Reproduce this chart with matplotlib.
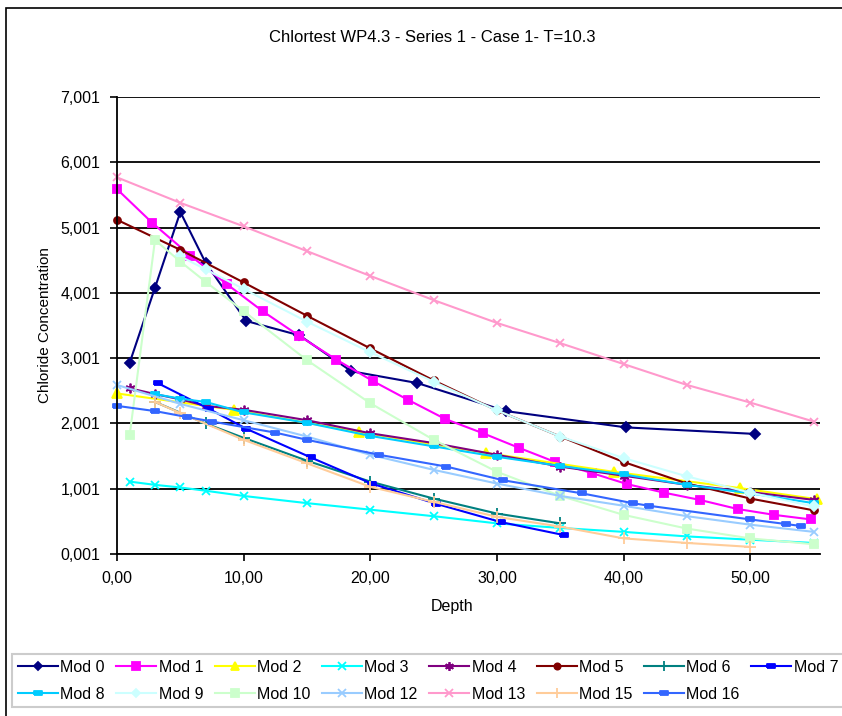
import matplotlib
matplotlib.use("Agg")
import matplotlib.pyplot as plt
from matplotlib.patches import Rectangle
from matplotlib.ticker import FuncFormatter

plt.rcParams["font.family"] = ["Liberation Sans", "DejaVu Sans"]

# ---------------------------------------------------------------------------
# Data (depth vs chloride concentration)
# ---------------------------------------------------------------------------
mod0_x = [1, 3, 5, 7, 10.2, 14.4, 18.5, 23.7, 30.7, 40.2, 50.4]
mod0_y = [2.93, 4.08, 5.24, 4.46, 3.57, 3.35, 2.80, 2.62, 2.19, 1.94, 1.84]

mod1_x = [0, 2.8, 5.8, 8.7, 11.5, 14.4, 17.3, 20.2, 23.0, 25.9, 28.9, 31.7,
          34.6, 37.5, 40.3, 43.2, 46.0, 49.0, 51.9, 54.8]
mod1_y = [5.59, 5.07, 4.57, 4.13, 3.72, 3.34, 2.98, 2.65, 2.36, 2.07, 1.85, 1.63,
          1.41, 1.24, 1.07, 0.94, 0.83, 0.69, 0.60, 0.53]

mod2_x = [0, 9.2, 19.1, 29.1, 39.2, 49.2, 55.3]
mod2_y = [2.46, 2.21, 1.87, 1.55, 1.26, 1.01, 0.84]

mod3_x = [1, 3, 5, 7, 10, 15, 20, 25, 30, 35, 40, 45, 50, 55]
mod3_y = [1.11, 1.06, 1.02, 0.97, 0.89, 0.78, 0.68, 0.58, 0.47, 0.40, 0.34, 0.27, 0.22, 0.17]

mod4_x = [1, 3, 5, 7, 10, 15, 20, 25, 30, 35, 40, 45, 50, 55]
mod4_y = [2.54, 2.45, 2.37, 2.27, 2.21, 2.05, 1.85, 1.70, 1.52, 1.34, 1.20, 1.06, 0.95, 0.83]

mod5_x = [0, 5, 10, 15, 20, 25, 30, 35, 40, 45, 50, 55]
mod5_y = [5.12, 4.66, 4.16, 3.65, 3.15, 2.66, 2.20, 1.80, 1.41, 1.08, 0.85, 0.67]

mod6_x = [3, 7, 10, 15, 20, 25, 30, 35]
mod6_y = [2.33, 2.00, 1.78, 1.43, 1.11, 0.85, 0.62, 0.47]

mod7_x = [3.2, 7.3, 10.2, 15.3, 20.1, 25.2, 30.3, 35.3]
mod7_y = [2.62, 2.22, 1.92, 1.48, 1.08, 0.77, 0.49, 0.29]

mod8_x = [3, 5, 7, 10, 15, 20, 25, 30, 35, 40, 45, 50, 55]
mod8_y = [2.45, 2.38, 2.33, 2.17, 2.01, 1.81, 1.65, 1.49, 1.35, 1.22, 1.06, 0.93, 0.78]

mod9_x = [5, 7, 10, 15, 20, 25, 30, 35, 40, 45, 50, 55]
mod9_y = [4.56, 4.36, 4.06, 3.56, 3.09, 2.64, 2.20, 1.80, 1.47, 1.19, 0.94, 0.73]

mod10_x = [1, 3, 5, 7, 10, 15, 20, 25, 30, 35, 40, 45, 50, 55]
mod10_y = [1.82, 4.81, 4.48, 4.17, 3.72, 2.97, 2.31, 1.75, 1.26, 0.89, 0.60, 0.39, 0.24, 0.15]

mod12_x = [0, 5, 10, 15, 20, 25, 30, 35, 40, 45, 50, 55]
mod12_y = [2.59, 2.30, 2.05, 1.80, 1.52, 1.29, 1.08, 0.89, 0.74, 0.58, 0.45, 0.34]

mod13_x = [0, 5, 10, 15, 20, 25, 30, 35, 40, 45, 50, 55]
mod13_y = [5.77, 5.38, 5.02, 4.64, 4.26, 3.89, 3.54, 3.23, 2.91, 2.59, 2.32, 2.03]

mod15_x = [3, 5, 10, 15, 20, 25, 30, 35, 40, 45, 50]
mod15_y = [2.33, 2.16, 1.75, 1.39, 1.03, 0.80, 0.57, 0.42, 0.24, 0.17, 0.11]

mod16_x = [0, 3, 5.5, 7.5, 12.5, 15, 20.7, 26, 30.5, 36.7, 40.7, 42, 50, 52.8, 54]
mod16_y = [2.27, 2.19, 2.10, 2.03, 1.86, 1.75, 1.52, 1.34, 1.13, 0.93, 0.78, 0.74, 0.53, 0.46, 0.43]

# Excel-style short dash marker (wide, flat rectangle)
DASH = [(-1, -0.45), (1, -0.45), (1, 0.45), (-1, 0.45), (-1, -0.45)]
STAR = (6, 2, 0)

SERIES = [
    ("Mod 0", mod0_x, mod0_y, "#000080", "D", 5),
    ("Mod 1", mod1_x, mod1_y, "#FF00FF", "s", 6),
    ("Mod 2", mod2_x, mod2_y, "#FFFF00", "^", 7),
    ("Mod 3", mod3_x, mod3_y, "#00FFFF", "x", 6),
    ("Mod 4", mod4_x, mod4_y, "#800080", STAR, 7),
    ("Mod 5", mod5_x, mod5_y, "#800000", "o", 5),
    ("Mod 6", mod6_x, mod6_y, "#008080", "+", 8),
    ("Mod 7", mod7_x, mod7_y, "#0000FF", DASH, 6),
    ("Mod 8", mod8_x, mod8_y, "#00CCFF", DASH, 6),
    ("Mod 9", mod9_x, mod9_y, "#CCFFFF", "D", 5),
    ("Mod 10", mod10_x, mod10_y, "#CCFFCC", "s", 6),
    ("Mod 12", mod12_x, mod12_y, "#99CCFF", "x", 6),
    ("Mod 13", mod13_x, mod13_y, "#FF99CC", "x", 6),
    ("Mod 15", mod15_x, mod15_y, "#FFCC99", "+", 8),
    ("Mod 16", mod16_x, mod16_y, "#3366FF", DASH, 6),
]

fig = plt.figure(figsize=(8.42, 7.16), dpi=100)
ax = fig.add_axes([117 / 842, 1 - 554 / 716, 703 / 842, 457 / 716])

# outer chart border (right and bottom edges run off the picture)
fig.add_artist(Rectangle((6 / 842, -0.01), 1.0, 1 - 8 / 716 + 0.01,
                         transform=fig.transFigure, fill=False,
                         edgecolor="black", lw=1.2))

handles = {}
for name, xs, ys, col, mk, ms in SERIES:
    (ln,) = ax.plot(xs, ys, color=col, lw=1.5, marker=mk, ms=ms,
                    mec=col, mfc=col, mew=1.3, label=name, clip_on=False)
    handles[name] = ln

ax.set_xlim(0, 55.5)
ax.set_ylim(0.001, 7.001)
ax.set_yticks([0.001 + i for i in range(8)])
ax.set_xticks([0, 10, 20, 30, 40, 50])
ax.yaxis.set_major_formatter(FuncFormatter(lambda v, p: f"{v:.3f}".replace(".", ",")))
ax.xaxis.set_major_formatter(FuncFormatter(lambda v, p: f"{v:.2f}".replace(".", ",")))
ax.tick_params(axis="both", direction="out", length=5, width=1.2, labelsize=11.5, pad=7)
ax.grid(axis="y", color="black", lw=1.3)
ax.set_axisbelow(True)
for s in ("top", "right"):
    ax.spines[s].set_visible(False)
for s in ("left", "bottom"):
    ax.spines[s].set_linewidth(1.3)

fig.text(432 / 842, 1 - 37 / 716, "Chlortest WP4.3 - Series 1 - Case 1- T=10.3",
         ha="center", va="center", fontsize=12)
fig.text(45 / 842, 1 - 325 / 716, "Chloride Concentration", rotation=90,
         ha="center", va="center", fontsize=11)
fig.text(452 / 842, 1 - 607 / 716, "Depth", ha="center", va="center", fontsize=11.5)

# legend filled row-wise: top row Mod 0..7, bottom row Mod 8..16
row1 = ["Mod 0", "Mod 1", "Mod 2", "Mod 3", "Mod 4", "Mod 5", "Mod 6", "Mod 7"]
row2 = ["Mod 8", "Mod 9", "Mod 10", "Mod 12", "Mod 13", "Mod 15", "Mod 16"]
order = []
for i, n in enumerate(row1):
    order.append(n)
    if i < len(row2):
        order.append(row2[i])
leg = fig.legend([handles[n] for n in order], order, ncol=8,
                 loc="upper left", bbox_to_anchor=(12 / 842, 1 - 654 / 716),
                 borderaxespad=0, fontsize=11.5, frameon=True, fancybox=False,
                 handlelength=2.5, handletextpad=0.15, columnspacing=0.73,
                 labelspacing=0.75, borderpad=0.35, markerscale=0.9)
leg.get_frame().set_edgecolor("#c0c0c0")
leg.get_frame().set_linewidth(1.5)

fig.savefig("out.png", dpi=100)
